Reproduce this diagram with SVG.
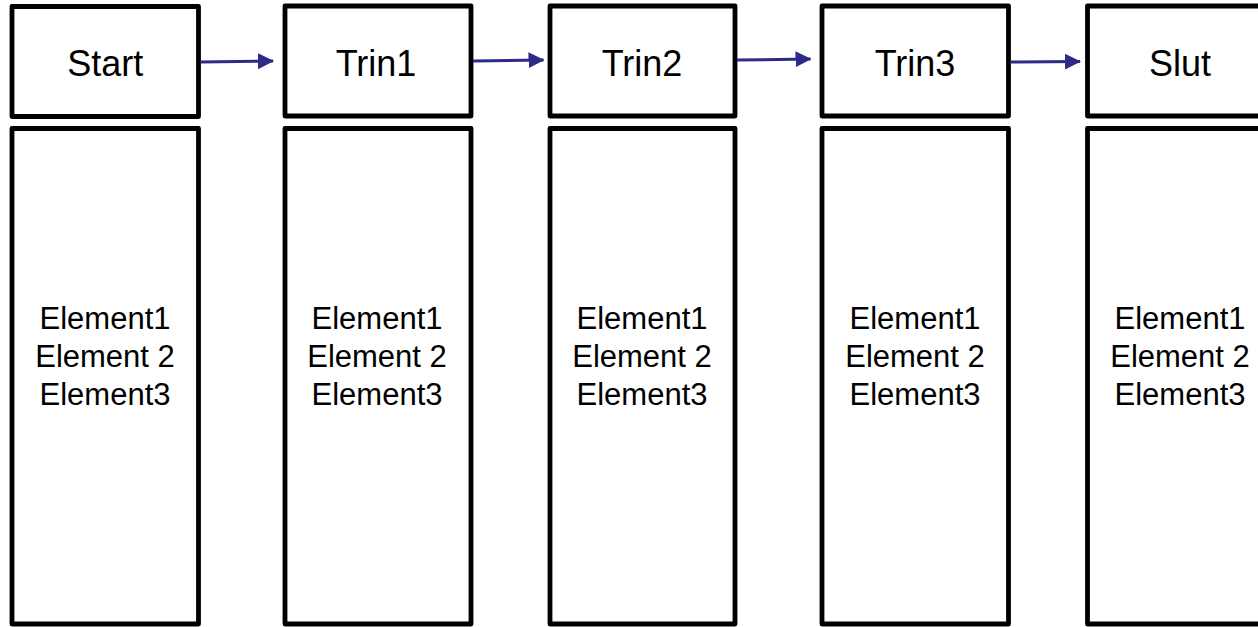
<svg xmlns="http://www.w3.org/2000/svg" width="1258" height="627" viewBox="0 0 1258 627">
  <defs>
    <style>
      .box { fill: #ffffff; stroke: #000000; stroke-width: 4.8; stroke-linejoin: round; }
      .title { font-family: "Liberation Sans", Arial, sans-serif; font-size: 36px; fill: #000000; text-anchor: middle; }
      .body { font-family: "Liberation Sans", Arial, sans-serif; font-size: 31px; fill: #000000; text-anchor: middle; }
      .conn { stroke: #2E2A87; stroke-width: 3; fill: none; }
    </style>
    <marker id="arrow" viewBox="0 0 16 16" refX="15" refY="8" markerWidth="16" markerHeight="16" markerUnits="userSpaceOnUse" orient="auto">
      <path d="M0,0 L16,8 L0,16 Z" fill="#2E2A87"/>
    </marker>
  </defs>
  <rect width="1258" height="627" fill="#ffffff"/>

  <g id="node-start">
    <rect class="box" x="12" y="6.5" width="186.5" height="110"/>
    <text class="title" x="105.3" y="76">Start</text>
    <rect class="box" x="12" y="128.5" width="186.5" height="495.5"/>
    <text class="body" x="105" y="329">Element1</text>
    <text class="body" x="105" y="367">Element 2</text>
    <text class="body" x="105" y="405">Element3</text>
  </g>

  <g id="node-trin1">
    <rect class="box" x="285" y="6" width="186" height="110"/>
    <text class="title" x="376" y="76">Trin1</text>
    <rect class="box" x="285" y="128.5" width="186" height="495.5"/>
    <text class="body" x="377" y="329">Element1</text>
    <text class="body" x="377" y="367">Element 2</text>
    <text class="body" x="377" y="405">Element3</text>
  </g>

  <g id="node-trin2">
    <rect class="box" x="550" y="6" width="185" height="110"/>
    <text class="title" x="642" y="76">Trin2</text>
    <rect class="box" x="550" y="128.5" width="185" height="495.5"/>
    <text class="body" x="642" y="329">Element1</text>
    <text class="body" x="642" y="367">Element 2</text>
    <text class="body" x="642" y="405">Element3</text>
  </g>

  <g id="node-trin3">
    <rect class="box" x="822" y="6" width="186.5" height="110"/>
    <text class="title" x="915" y="76">Trin3</text>
    <rect class="box" x="822" y="128.5" width="186.5" height="495.5"/>
    <text class="body" x="915" y="329">Element1</text>
    <text class="body" x="915" y="367">Element 2</text>
    <text class="body" x="915" y="405">Element3</text>
  </g>

  <g id="node-slut">
    <rect class="box" x="1087.5" y="6" width="186.5" height="110"/>
    <text class="title" x="1180" y="76">Slut</text>
    <rect class="box" x="1087.5" y="128.5" width="186.5" height="495.5"/>
    <text class="body" x="1180" y="329">Element1</text>
    <text class="body" x="1180" y="367">Element 2</text>
    <text class="body" x="1180" y="405">Element3</text>
  </g>

  <g id="connectors">
    <line class="conn" x1="200.5" y1="62" x2="273" y2="61" marker-end="url(#arrow)"/>
    <line class="conn" x1="473" y1="61" x2="543.5" y2="60" marker-end="url(#arrow)"/>
    <line class="conn" x1="737" y1="60" x2="810.5" y2="59" marker-end="url(#arrow)"/>
    <line class="conn" x1="1010.5" y1="62" x2="1080" y2="61.5" marker-end="url(#arrow)"/>
  </g>
</svg>
